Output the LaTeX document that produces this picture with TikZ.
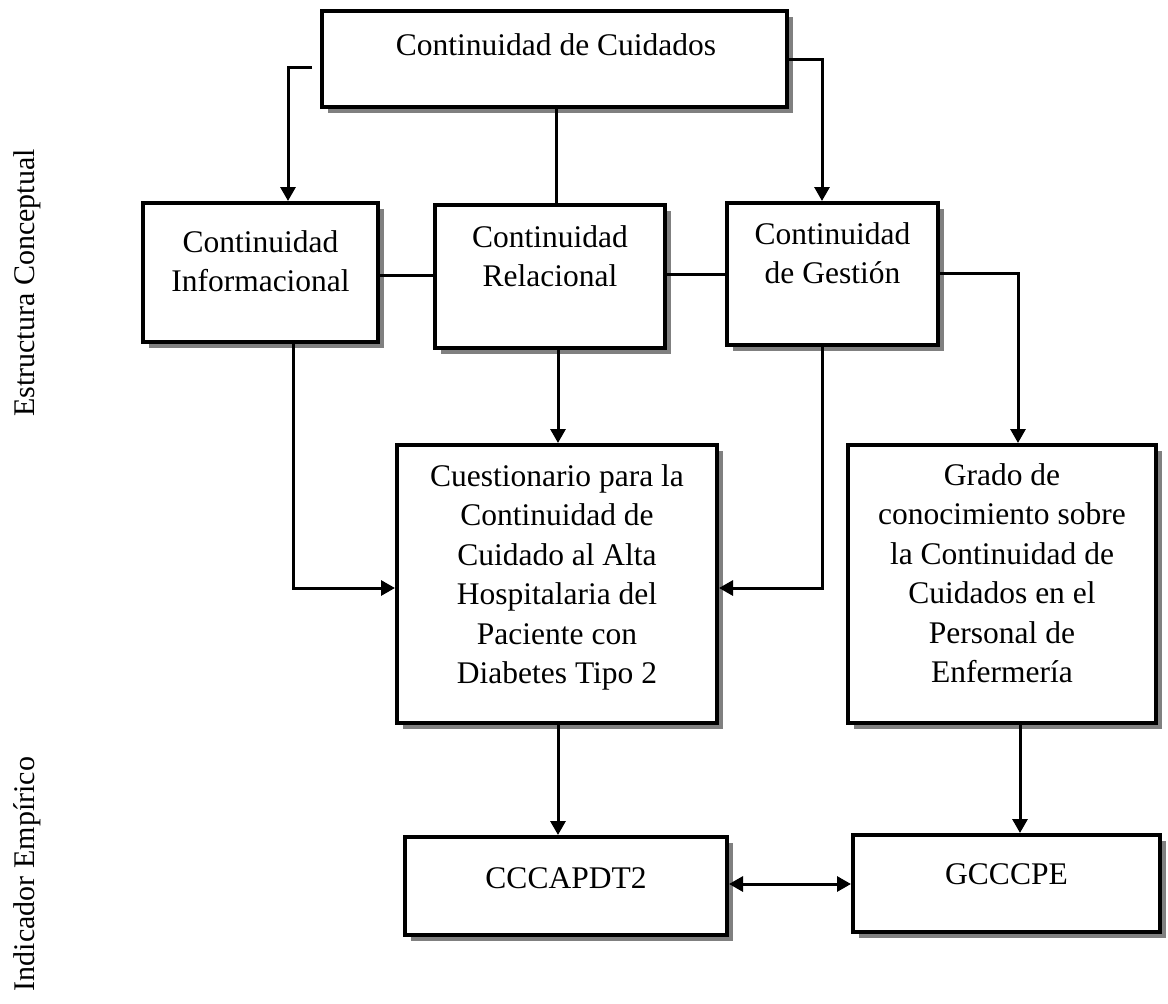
\documentclass[tikz,border=0pt]{standalone}
\usepackage{fontspec}
\setmainfont{Liberation Serif}
\usetikzlibrary{shadows,arrows.meta}
\begin{document}
\begin{tikzpicture}[x=1pt,y=-1pt,
  box/.style={draw, line width=4pt, fill=white, inner sep=0pt,
    drop shadow={shadow xshift=6pt, shadow yshift=-6pt, fill=black!50, opacity=1}},
  txt/.style={font=\fontsize{31.5}{39.5}\selectfont, align=center, inner sep=0pt, anchor=north},
  side/.style={font=\fontsize{30}{36}\selectfont, inner sep=0pt, rotate=90},
  conn/.style={line width=3pt},
  arr/.style={line width=3pt, -{Triangle[length=14pt,width=15pt]}},
  darr/.style={line width=3pt, {Triangle[length=14pt,width=15pt]}-{Triangle[length=14pt,width=15pt]}}]
\useasboundingbox (0,0) rectangle (1168,1004);

% boxes
\node[box, minimum width=465pt, minimum height=96pt] (top) at (554.5,59) {};
\node[box, minimum width=235pt, minimum height=139pt] (inf) at (260.5,272.5) {};
\node[box, minimum width=230pt, minimum height=143pt] (rel) at (550,276.5) {};
\node[box, minimum width=211pt, minimum height=142pt] (ges) at (832.5,274) {};
\node[box, minimum width=320pt, minimum height=278pt] (cue) at (557,584) {};
\node[box, minimum width=308pt, minimum height=278pt] (gra) at (1002,584) {};
\node[box, minimum width=322pt, minimum height=98pt] (cc) at (566,886) {};
\node[box, minimum width=307pt, minimum height=97pt] (gc) at (1006.5,883.5) {};

% texts
\node[txt] (topT) at (556,33) {Continuidad de Cuidados};
\node[txt] (infT) at (260.5,230) {Continuidad\\Informacional};
\node[txt] (relT) at (550,225) {Continuidad\\Relacional};
\node[txt] (gesT) at (832.5,222) {Continuidad\\de Gestión};
\node[txt] (cueT) at (557,464) {Cuestionario para la\\Continuidad de\\Cuidado al Alta\\Hospitalaria del\\Paciente con\\Diabetes Tipo 2};
\node[txt] (graT) at (1002,463) {Grado de\\conocimiento sobre\\la Continuidad de\\Cuidados en el\\Personal de\\Enfermería};
\node[txt] (ccT) at (566,867) {CCCAPDT2};
\node[txt] (gcT) at (1006.5,863) {GCCCPE};

% side labels
\node[side] (sideA) at (27,283) {Estructura Conceptual};
\node[side] (sideB) at (27,874) {Indicador Empírico};

% connectors
\draw[arr] ([xshift=-8pt,yshift=-8pt]top.west) -| ([xshift=27.5pt]inf.north);
\draw[arr] (top.east) -| ([xshift=-10.5pt]ges.north);
\draw[conn] ([xshift=1.5pt]top.south) -- ([xshift=1.5pt]top.south |- rel.north);
\draw[conn] ([yshift=-2.5pt]inf.east) -- ([yshift=-2.5pt]inf.east -| rel.west);
\draw[conn] ([yshift=-0.5pt]rel.east |- ges.east) -- ([yshift=-0.5pt]ges.west);
\draw[arr] ([xshift=32.5pt]inf.south) |- ([yshift=-4pt]cue.west);
\draw[arr] ([xshift=8pt]rel.south) -- ([xshift=8pt]rel.south |- cue.north);
\draw[arr] ([xshift=-10.5pt]ges.south) |- ([yshift=-4pt]cue.east);
\draw[arr] ([yshift=1pt]ges.east) -| ([xshift=16pt]gra.north);
\draw[arr] ([xshift=1pt]cue.south) -- ([xshift=1pt]cue.south |- cc.north);
\draw[arr] ([xshift=18pt]gra.south) -- ([xshift=18pt]gra.south |- gc.north);
\draw[darr] ([yshift=2pt]cc.east) -- ([yshift=2pt]cc.east -| gc.west);
\end{tikzpicture}
\end{document}
